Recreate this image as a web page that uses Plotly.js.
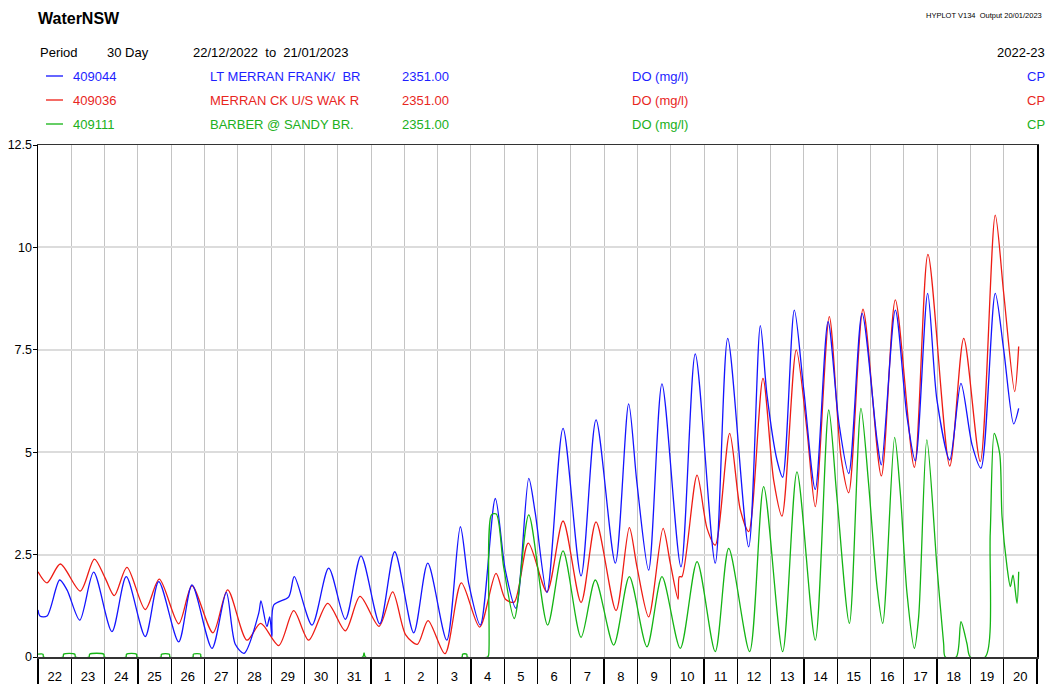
<!DOCTYPE html>
<html>
<head>
<meta charset="utf-8">
<script src="https://cdn.plot.ly/plotly-3.0.1.min.js"></script>
<style>
html,body{margin:0;padding:0;background:#fff;}
#chart{width:1047px;height:684px;}
</style>
</head>
<body>
<div id="chart"></div>
<script>
// ---- data (hours since 22/12/2022 00:00, DO mg/l) ----
const periodStart = "2022-12-22";
const periodEnd = "2023-01-21";
const seriesCodes = ["409044", "409036", "409111"];
const seriesNames = ["LT MERRAN FRANK/  BR", "MERRAN CK U/S WAK R", "BARBER @ SANDY BR."];
const seriesDatum = ["2351.00", "2351.00", "2351.00"];
const seriesVar = ["DO (mg/l)", "DO (mg/l)", "DO (mg/l)"];
const seriesTag = ["CP", "CP", "CP"];

const hoursBlue = [0,1.4,6.5,15.6,20.9,30.1,40.1,53.3,63.6,77.3,87.0,101.4,111.0,125.4,135.7,142.2,148.5,159.1,160.7,165.0,167.0,168.6,169.9,180.7,184.7,197.5,209.5,221.5,232.8,246.3,257.1,270.8,280.9,294.6,304.4,310.4,318.8,329.6,336.8,344.5,353.7,358.4,366.8,378.4,391.4,402.2,416.1,425.7,431.7,440.1,449.7,463.4,473.7,488.1,497.1,512.2,520.6,525.4,532.6,536.7,545.1,551.9,560.2,569.4,577.3,584.3,593.9,604.7,607.8,617.9,626.3,632.3,641.2,647.9,657.1,665.2,673.2,679.6,689.9,696.0,703.2,706.8];
const doBlue = [1.15,1.0,1.0,1.88,1.64,0.90,2.07,0.62,1.96,0.50,1.84,0.37,1.76,0.21,1.58,0.31,0.09,1.07,1.37,0.74,0.98,0.50,1.27,1.47,1.96,0.78,2.17,0.92,2.47,0.81,2.57,0.59,2.29,0.41,3.18,1.80,0.78,3.87,2.12,1.19,4.36,3.51,1.57,5.58,1.98,5.79,2.29,6.18,4.24,2.12,6.67,2.20,7.40,2.29,7.78,2.69,8.09,6.40,4.81,4.39,8.47,6.52,4.09,8.19,5.70,4.48,8.39,5.30,4.69,8.47,5.87,4.79,8.88,6.27,4.81,6.68,5.18,4.61,8.88,7.50,5.69,6.07];

const hoursRed = [0,6.5,16.1,30.5,40.6,48.5,55.0,64.1,77.3,87.4,101.4,111.0,126.1,136.7,150.6,160.5,173.5,184.3,195.1,208.8,221.5,232.1,245.8,255.6,265.0,273.4,281.1,293.3,305.1,318.3,330.1,336.9,343.2,353.4,366.8,378.4,391.4,402.2,416.6,426.2,431.7,440.1,450.5,455.7,461.3,462.2,464.1,475.0,482.2,488.1,498.5,506.2,512.2,522.5,530.2,536.2,546.5,554.2,560.2,570.3,578.7,584.3,594.6,607.8,617.9,631.6,641.4,657.1,667.2,679.1,689.9,696.0,703.9,706.8];
const doRed = [2.08,1.81,2.27,1.61,2.39,1.92,1.50,2.19,1.16,1.90,0.81,1.74,0.59,1.64,0.41,0.82,0.28,1.13,0.41,1.31,0.64,1.48,0.75,1.59,0.54,0.31,0.89,0.08,1.81,0.73,2.04,1.41,1.34,2.78,1.59,3.32,1.33,3.30,1.13,3.16,2.20,0.98,3.14,2.29,1.41,1.96,1.96,4.44,3.14,2.73,5.46,3.59,3.06,6.80,4.32,3.44,7.50,5.54,3.67,8.31,4.89,4.01,8.49,4.42,8.72,4.63,9.83,4.66,7.78,4.77,10.79,8.88,6.48,7.58];

const hoursGreen = [0,3.6,4,18,18.5,26.5,27,36.8,37.2,47.4,47.8,63.4,63.8,71,71.4,88.6,89,94.7,95.1,111.7,112,117.2,117.5,234,235,236,305.6,306,309,309.4,324.0,324.8,326.8,330.3,335.6,343.3,353.7,367.3,378.4,391.4,401.7,414.9,426.2,438.9,449.7,462.9,475.0,488.1,497.8,512.9,523.0,536.7,547.0,560.2,569.9,575.8,584.8,593.1,598.6,604.7,608.8,617.4,621.5,626.3,631.6,634.7,640.6,647.9,652.7,653.9,661.8,665.2,669.5,671.9,682.7,686.3,689.2,693.1,694.8,698.4,700.8,702.7,705.6,706.8];
const doGreen = [0.07,0.07,0,0,0.07,0.07,0,0,0.07,0.07,0,0,0.07,0.07,0,0,0.07,0.07,0,0,0.07,0.07,0,0,0.1,0,0,0.07,0.07,0,0,0.05,3.47,3.49,2.20,0.94,3.47,0.78,2.59,0.48,1.88,0.29,1.96,0.25,1.96,0.21,2.33,0.13,2.65,0.13,4.16,0.13,4.52,0.41,6.03,3.90,0.82,6.07,4.24,1.72,0.82,5.36,4.00,1.56,0.21,0.98,5.30,2.20,0.33,0,0,0.86,0.33,0,0,3.02,5.46,4.97,3.43,2.20,1.72,2.00,1.31,2.08];

const yTicks = [0, 2.5, 5, 7.5, 10, 12.5];
const yTickText = ["0", "2.5", "5", "7.5", "10", "12.5"];

// ---- build ----
const HOUR = 3600000;
const base = Date.UTC(2022, 11, 22);
const toX = hs => hs.map(h => base + h * HOUR);

const colBlue = "#1414ff", colRed = "#ee1c14", colGreen = "#14b414";
const txtCols = ["#1e1eff", "#e8261e", "#20b020"];
const FONT = "Arial, 'Liberation Sans', Helvetica, sans-serif";

const mk = (h, v, c) => ({
  x: toX(h), y: v, type: "scatter", mode: "lines",
  line: {color: c, width: 1.3, shape: "spline", smoothing: 0.8},
  hoverinfo: "skip", showlegend: false
});

const traces = [mk(hoursRed, doRed, colRed), mk(hoursBlue, doBlue, colBlue), mk(hoursGreen, doGreen, colGreen)];

// paper coordinate helpers relative to plot area (l=38, r=1037, t=145, b=657)
const PX = px => (px - 38) / 999;
const PY = py => (657 - py) / 512;

const ann = [];
const shapes = [];
function txt(s, px, py, anchor, size, color, bold) {
  ann.push({text: bold ? "<b>" + s + "</b>" : s, xref: "paper", yref: "paper", x: PX(px), y: PY(py),
    xanchor: anchor, yanchor: "middle", showarrow: false,
    font: {family: FONT, size: size, color: color}});
}
const HS = 13;
txt("WaterNSW", 36, 18, "left", 16, "#000", true);
txt("HYPLOT V134&nbsp;&nbsp;Output 20/01/2023", 1044, 15, "right", 7.5, "#000", false);
txt("Period", 38, 52, "left", HS, "#000", false);
txt("30 Day", 105, 52, "left", HS, "#000", false);
txt("22/12/2022&nbsp;&nbsp;to&nbsp;&nbsp;21/01/2023", 191, 52, "left", HS, "#000", false);
txt("2022-23", 1047, 52, "right", HS, "#000", false);
const rowY = [76, 100, 124];
const lineCols = [colBlue, colRed, colGreen];
for (let i = 0; i < 3; i++) {
  txt(seriesCodes[i], 71, rowY[i], "left", HS, txtCols[i], false);
  txt(seriesNames[i].replace(/  /g, "&nbsp;&nbsp;"), 208, rowY[i], "left", HS, txtCols[i], false);
  txt(seriesDatum[i], 400, rowY[i], "left", HS, txtCols[i], false);
  txt(seriesVar[i], 630, rowY[i], "left", HS, txtCols[i], false);
  txt(seriesTag[i], 1047, rowY[i], "right", HS, txtCols[i], false);
  shapes.push({type: "line", xref: "paper", yref: "paper", x0: PX(46), x1: PX(63), y0: PY(rowY[i]), y1: PY(rowY[i]),
    line: {color: lineCols[i], width: 1.3}});
}

const layout = {
  width: 1047, height: 684,
  margin: {l: 38, r: 10, t: 145, b: 27, pad: 0},
  paper_bgcolor: "#fff", plot_bgcolor: "#fff",
  showlegend: false,
  xaxis: {
    type: "date", range: [periodStart, periodEnd],
    tick0: periodStart, dtick: 86400000, tickformat: "%-d", ticklabelmode: "period",
    showgrid: true, gridcolor: "#c4c4c4", gridwidth: 1,
    ticks: "outside", ticklen: 27, tickcolor: "#000", tickwidth: 1.2,
    ticklabelstandoff: -20,
    showline: true, linecolor: "#333", linewidth: 1.5, mirror: true,
    zeroline: false, layer: "below traces",
    tickfont: {family: FONT, size: 13, color: "#000"}
  },
  yaxis: {
    range: [0, 12.5], tickvals: yTicks, ticktext: yTickText,
    showgrid: true, gridcolor: "#dcdcdc", gridwidth: 2,
    ticks: "outside", ticklen: 4, tickcolor: "#000", tickwidth: 1,
    ticklabelstandoff: -2,
    showline: true, linecolor: "#000", linewidth: 1.5, mirror: true,
    zeroline: false, layer: "below traces",
    tickfont: {family: FONT, size: 12.5, color: "#000"}
  },
  annotations: ann,
  shapes: shapes
};

Plotly.newPlot("chart", traces, layout, {displayModeBar: false, staticPlot: true});
</script>
</body>
</html>
